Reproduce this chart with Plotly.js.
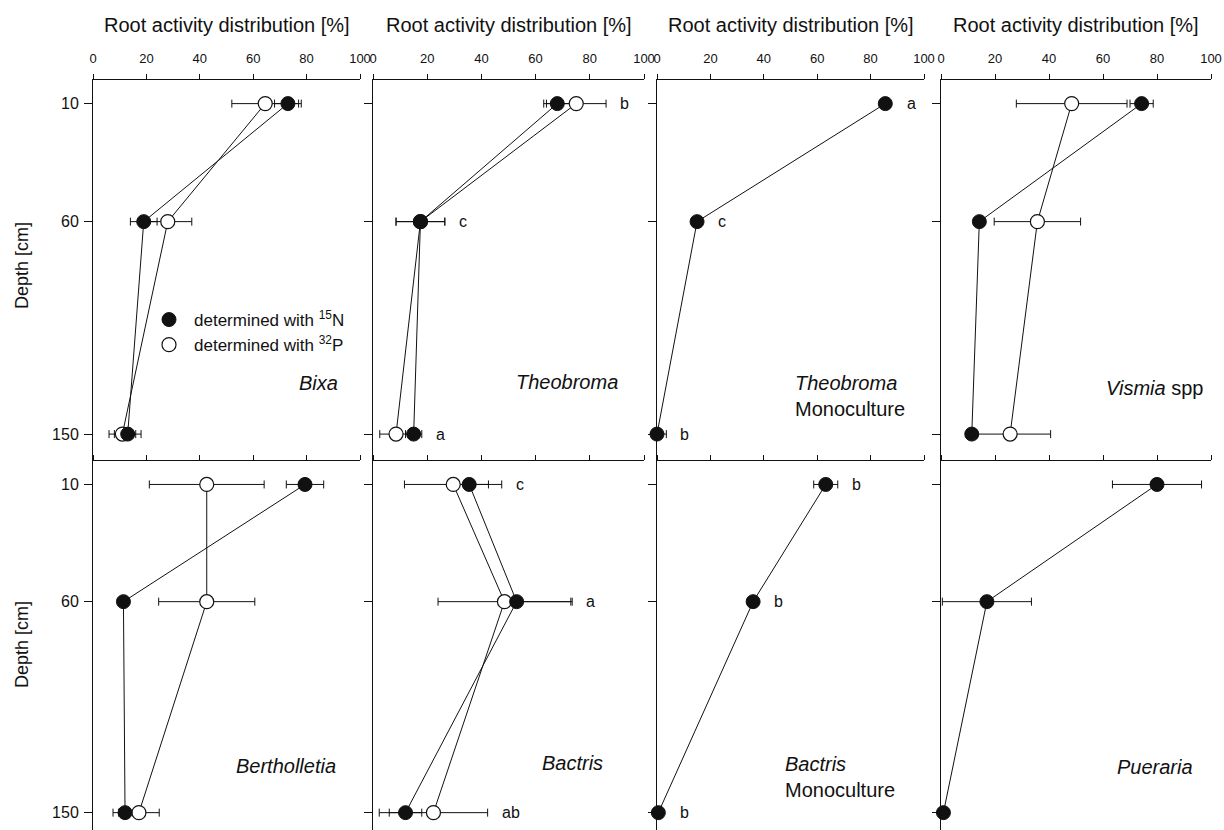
<!DOCTYPE html>
<html>
<head>
<meta charset="utf-8">
<script src="https://cdn.plot.ly/plotly-3.0.1.min.js"></script>
<style>html,body{margin:0;padding:0;background:#fff;}#chart{width:1224px;height:830px;}</style>
</head>
<body>
<div id="chart"></div>
<script>
// ---------------- data ----------------
const depths = [10, 60, 150];
const xTicks = [0, 20, 40, 60, 80, 100];
const depthTicks = [10, 60, 150];

const speciesNames = ["<i>Bixa</i>", "<i>Theobroma</i>", "<i>Theobroma</i><br>Monoculture", "<i>Vismia</i> spp",
                      "<i>Bertholletia</i>", "<i>Bactris</i>", "<i>Bactris</i><br>Monoculture", "<i>Pueraria</i>"];

// 15N (filled) series
const bixaN = [73, 19, 13];          const bixaNerr = [5, 5, 5];
const theoN = [68, 17.5, 15];        const theoNerr = [5, 9, 3];
const theoMonoN = [85.5, 15, 0];     const theoMonoNerr = [2, 2, 3.5];
const vismiaN = [74.3, 14.2, 11.4];  const vismiaNerr = [4.3, 2, 2];
const berthN = [79.4, 11.4, 12];     const berthNerr = [7, 2, 4.5];
const bactN = [35.5, 53, 12];        const bactNerrPlus = [12, 20.5, 6]; const bactNerrMinus = [5, 4, 6];
const bactMonoN = [63.2, 36, 0.5];   const bactMonoNerr = [4.5, 2, 1];
const puerN = [80, 17, 0.9];         const puerNerr = [16.5, 16.5, 1];

// 32P (open) series
const bixaP = [64.5, 28, 11];        const bixaPerr = [12.5, 9, 5];
const theoP = [75, 17.5, 8.5];       const theoPerr = [11, 9, 6];
const vismiaP = [48.4, 35.7, 25.6];  const vismiaPerr = [20.5, 16, 15];
const berthP = [42.6, 42.6, 17.2];   const berthPerr = [21.5, 18, 7.6];
const bactP = [29.6, 48.5, 22.3];    const bactPerrPlus = [13, 24.5, 20]; const bactPerrMinus = [18, 24.5, 20];

// significance letters
const theoLetters = ["b", "c", "a"];
const theoMonoLetters = ["a", "c", "b"];
const bactLetters = ["c", "a", "ab"];
const bactMonoLetters = ["b", "b", "b"];

// ---------------- panel assembly ----------------
const panels = [
  {n: bixaN, nP: bixaNerr, nM: bixaNerr, p: bixaP, pP: bixaPerr, pM: bixaPerr, letters: null},
  {n: theoN, nP: theoNerr, nM: theoNerr, p: theoP, pP: theoPerr, pM: theoPerr, letters: theoLetters},
  {n: theoMonoN, nP: theoMonoNerr, nM: theoMonoNerr, p: null, letters: theoMonoLetters},
  {n: vismiaN, nP: vismiaNerr, nM: vismiaNerr, p: vismiaP, pP: vismiaPerr, pM: vismiaPerr, letters: null},
  {n: berthN, nP: berthNerr, nM: berthNerr, p: berthP, pP: berthPerr, pM: berthPerr, letters: null},
  {n: bactN, nP: bactNerrPlus, nM: bactNerrMinus, p: bactP, pP: bactPerrPlus, pM: bactPerrMinus, letters: bactLetters},
  {n: bactMonoN, nP: bactMonoNerr, nM: bactMonoNerr, p: null, letters: bactMonoLetters},
  {n: puerN, nP: puerNerr, nM: puerNerr, p: null, letters: null}
];

// ---------------- layout geometry (pixels) ----------------
const W = 1224, H = 830;
const colPx = [[93, 360], [373, 644], [657, 924], [941, 1211]];
const rowPx = [[80, 461], [461, 830]];
const yRanges = [[161.4, 0], [157.4, 0]];
// label placement per panel: [x (data), depth (data), anchor]
const labelPos = [[92.5, 128.4, "right"], [91, 128, "right"], [51, 134, "left"], [97.8, 130.5, "right"],
                  [91.8, 130, "right"], [85.6, 128.8, "right"], [47.2, 135, "left"], [94, 130.5, "right"]];

const FONT = "Liberation Sans, Arial, Helvetica, sans-serif";
const INK = "#111";
const MS = 14;

const traces = [];
const layout = {
  width: W, height: H,
  margin: {l: 0, r: 0, t: 0, b: 0},
  paper_bgcolor: "#fff", plot_bgcolor: "rgba(0,0,0,0)",
  font: {family: FONT, color: INK},
  showlegend: true,
  legend: {x: 144 / W, y: 1 - 302 / H, xanchor: "left", yanchor: "top",
           bgcolor: "rgba(0,0,0,0)", font: {size: 17, family: FONT, color: INK},
           tracegroupgap: 0, itemwidth: 40},
  annotations: []
};

panels.forEach((pn, i) => {
  const k = i + 1;
  const col = i % 4, row = Math.floor(i / 4);
  const xa = "x" + (k === 1 ? "" : k), ya = "y" + (k === 1 ? "" : k);
  layout["xaxis" + (k === 1 ? "" : k)] = {
    domain: [colPx[col][0] / W, colPx[col][1] / W], range: [0, 100], side: "top", anchor: ya,
    showline: true, linecolor: INK, linewidth: 1, ticks: "outside", ticklen: 5, tickwidth: 1, tickcolor: INK,
    tickvals: xTicks, showticklabels: row === 0, tickfont: {size: 13, family: FONT, color: INK},
    ticklabelstandoff: 6,
    showgrid: false, zeroline: false, fixedrange: true
  };
  layout["yaxis" + (k === 1 ? "" : k)] = {
    domain: [1 - rowPx[row][1] / H, 1 - rowPx[row][0] / H], range: yRanges[row], anchor: xa, side: "left",
    showline: true, linecolor: INK, linewidth: 1, ticks: "outside", ticklen: 8, tickwidth: 1, tickcolor: INK,
    tickvals: depthTicks, showticklabels: col === 0, tickfont: {size: 16, family: FONT, color: INK},
    ticklabelstandoff: 2,
    showgrid: false, zeroline: false, fixedrange: true
  };
  const errStyle = (plus, minus) => ({type: "data", symmetric: false, array: plus, arrayminus: minus,
                                      color: INK, thickness: 1, width: 4});
  // lines + error bars first
  if (pn.p) {
    traces.push({x: pn.p, y: depths, xaxis: xa, yaxis: ya, mode: "lines", showlegend: false,
                 line: {color: INK, width: 1}, error_x: errStyle(pn.pP, pn.pM), cliponaxis: false, hoverinfo: "skip"});
  }
  traces.push({x: pn.n, y: depths, xaxis: xa, yaxis: ya, mode: "lines", showlegend: false,
               line: {color: INK, width: 1}, error_x: errStyle(pn.nP, pn.nM), cliponaxis: false, hoverinfo: "skip"});
  // markers on top
  if (pn.p) {
    traces.push({x: pn.p, y: depths, xaxis: xa, yaxis: ya, mode: "markers", showlegend: false, cliponaxis: false,
                 marker: {size: MS, color: "#fff", line: {color: INK, width: 1.2}}});
  }
  traces.push({x: pn.n, y: depths, xaxis: xa, yaxis: ya, mode: "markers", showlegend: false, cliponaxis: false,
               marker: {size: MS, color: INK, line: {color: INK, width: 1}}});

  // significance letters, placed just right of the rightmost mark / error bar
  if (pn.letters) {
    pn.letters.forEach((t, j) => {
      let right = Math.max(pn.n[j] + pn.nP[j], pn.n[j] + 2.7);
      if (pn.p) right = Math.max(right, pn.p[j] + pn.pP[j], pn.p[j] + 2.7);
      layout.annotations.push({xref: xa, yref: ya, x: right + 4.5, y: depths[j], text: t, showarrow: false,
                               xanchor: "left", yanchor: "middle", font: {size: 16, family: FONT, color: INK}});
    });
  }
  // species label
  const lp = labelPos[i];
  layout.annotations.push({xref: xa, yref: ya, x: lp[0], y: lp[1], text: speciesNames[i], showarrow: false,
                           xanchor: lp[2], yanchor: "middle", align: "left",
                           font: {size: 20, family: FONT, color: INK}});
  // top titles
  if (row === 0) {
    layout.annotations.push({xref: xa + " domain", yref: "paper", x: 0.5, y: 1 - 25 / H,
                             text: "Root activity distribution [%]", showarrow: false,
                             xanchor: "center", yanchor: "middle", font: {size: 20, family: FONT, color: INK}});
  }
});

// depth titles
[266, 645].forEach(py => {
  layout.annotations.push({xref: "paper", yref: "paper", x: 22 / W, y: 1 - py / H, text: "Depth [cm]",
                           textangle: -90, showarrow: false, xanchor: "center", yanchor: "middle",
                           font: {size: 18, family: FONT, color: INK}});
});

// legend entries
traces.push({x: [null], y: [null], xaxis: "x", yaxis: "y", mode: "markers", showlegend: true,
             name: "determined with <sup>15</sup>N", marker: {size: MS, color: INK, line: {color: INK, width: 1}}});
traces.push({x: [null], y: [null], xaxis: "x", yaxis: "y", mode: "markers", showlegend: true,
             name: "determined with <sup>32</sup>P", marker: {size: MS, color: "#fff", line: {color: INK, width: 1.2}}});

Plotly.newPlot("chart", traces, layout, {staticPlot: true, displayModeBar: false});
</script>
</body>
</html>
